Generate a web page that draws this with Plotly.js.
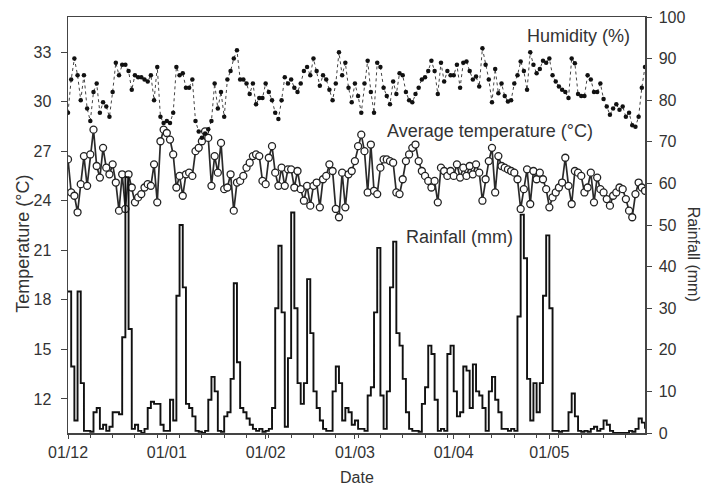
<!DOCTYPE html>
<html>
<head>
<meta charset="utf-8">
<script src="https://cdn.plot.ly/plotly-3.0.1.min.js"></script>
<style>html,body{margin:0;padding:0;background:#fff;}#chart{width:704px;height:488px;}</style>
</head>
<body>
<div id="chart"></div>
<script>
// ---- data (daily, 1 Dec to 31 May) ----
const startDate = '2010-12-01';
const tickDates = ['2010-12-01','2011-01-01','2011-02-01','2011-03-01','2011-04-01','2011-05-01'];
const tickLabels = ['01/12','01/01','01/02','01/03','01/04','01/05'];
const tempTicks = [12, 15, 18, 21, 24, 27, 30, 33];

const humidity = [
 77,85,90,86,80,86,78,75,82,84, 77,79.5,78.5,76,82,89,86,88.5,88.5,87,
 82.5,86,85.5,85.5,85,84.5,86,80,88,76, 74.5,75,74.5,77,88,86,86.5,83,83,85,
 75,72.5,71,72,73,75,84,78,82,76, 85,87,90,92,85,85,84,81.5,84,79,
 80.5,80.5,84,82,80,77,75.5,80,85.5,84, 85,83,82,84,87,88,86,90,87,83.5,
 86,85,82.5,80,84,91.5,86,89,83,79.5, 84,81,77,84,89.5,82,77,89,88,83,
 81,79,84.5,81.5,86.5,86,82,80,79.5,81.5, 83,85,85.5,87,89.5,87,81.5,89,84.5,87,
 86,86,88.5,83,89,89.3,87,85,85.7,83.3, 92.5,88.5,85,79.5,87.5,81.7,84,81,79.7,80,
 84,86,89.3,87,82.5,91.5,88.5,86.5,87.5,89.5, 89,90,86,84.5,83.3,82.5,82,80.5,90,88.9,
 81.5,81,81,86,85,82,82,84,80.3,78.5, 76.5,78,79,77.7,78.5,76,77,74,73.6,76,
 83,88
];

const avgTemp = [
 26.5,24.5,24.3,23.3,25.0,26.7,24.9,26.8,28.3,26.1, 25.4,27.2,26.0,25.6,26.2,25.1,23.4,25.6,23.5,25.6,
 24.8,23.9,24.2,24.4,24.8,25.0,24.9,26.2,23.9,27.6, 28.3,28.1,27.7,26.8,24.8,25.5,24.3,25.6,25.7,25.5,
 27.0,27.2,27.6,28.2,27.8,24.9,26.7,25.7,27.5,24.7, 24.8,25.6,23.4,25.1,25.2,25.5,26.0,26.3,26.7,26.8,
 26.7,25.2,25.0,26.6,27.3,25.7,24.9,26.0,24.9,25.9, 25.9,24.8,25.8,24.7,24.0,24.9,23.7,24.9,25.1,23.6,
 25.3,25.5,26.2,25.8,23.5,23.0,25.7,23.6,25.6,25.8, 26.4,27.3,28.0,27.0,24.5,27.4,24.6,24.4,26.0,26.5,
 26.5,26.4,26.3,24.5,24.4,25.3,26.4,26.8,27.2,27.4, 26.4,25.8,25.5,25.2,24.8,25.2,23.9,26.0,25.8,25.5,
 25.8,25.5,26.2,25.4,26.0,25.5,26.1,25.6,26.2,25.7, 24.0,25.3,26.4,27.2,24.5,26.7,26.1,26.0,25.9,25.8,
 25.7,25.3,23.5,24.7,25.9,23.8,25.8,25.3,25.7,25.3, 24.7,23.6,24.2,24.5,24.8,25.1,26.6,24.9,23.8,25.8,
 25.7,25.5,24.5,24.8,25.7,23.9,25.4,24.7,24.5,24.1, 23.7,24.3,24.5,24.8,24.7,24.1,23.4,23.0,24.4,25.1,
 24.8,24.6
];

const rainfall = [
 34,16,3,34,12,0.5,0.5,0.3,5,6, 1,2,0.5,1.5,5,5,4.5,23,61.5,25,
 1,2,0.5,0,1,6,7.5,7,7,2, 0.5,0.5,8,3,33,50,35,7,6,4,
 0.5,0.3,0,0.5,8,13.5,10,0.5,0.3,4, 5,13,36,17,6,5,3.5,2,1,0.5,
 1,0.3,0.5,1,6,30,45,29,1.5,18, 53,30,12,7,12,37,24,10,6,3,
 1,0.5,0.5,10,16,12,3,6,5,2, 3,1,1,0.5,9,11,29,44.5,9,1,
 10,35,46,24,21,13,5,1,0.5,0.5, 0.3,7,11,21,19,8,0.5,1,0.5,19,
 21,10,4,5,16,15,6,16.5,10,9, 6,0.5,10,13.5,8,5,1,1,0.5,1,
 0.5,28,52.5,42,13,3,12,5,12,33, 47.5,30,0.5,0.5,0.3,0.5,0.5,5,9.5,4,
 0.5,0.3,0.5,0.3,1,1.5,0.5,1,3,2, 0.5,0,0,0,0,0,0.5,0.3,1,3.5,
 2.5,1
];

// daily date labels
const days = [];
{
  const t0 = Date.parse(startDate + 'T00:00:00Z');
  for (let i = 0; i < humidity.length; i++) {
    days.push(new Date(t0 + i * 86400000).toISOString().slice(0, 10));
  }
}

const FONT = 'Liberation Sans, Arial, sans-serif';
const TXT = '#333333';
const AX = '#444444';

const traces = [
  {
    x: days, y: avgTemp, yaxis: 'y', type: 'scatter', mode: 'lines+markers',
    line: {color: '#2a2a2a', width: 1.7},
    marker: {symbol: 'circle', size: 7, color: '#ffffff', line: {color: '#222222', width: 1.3}},
    hoverinfo: 'skip'
  },
  {
    x: days, y: rainfall, yaxis: 'y2', type: 'scatter', mode: 'lines',
    line: {color: '#111111', width: 1.9, shape: 'hv'},
    hoverinfo: 'skip'
  },
  {
    x: days, y: humidity, yaxis: 'y2', type: 'scatter', mode: 'lines+markers',
    line: {color: '#444444', width: 1, dash: 'dot'},
    marker: {symbol: 'circle', size: 4.5, color: '#111111'},
    hoverinfo: 'skip'
  }
];

const layout = {
  width: 704, height: 488,
  margin: {l: 68, r: 59, t: 17, b: 55, pad: 0},
  paper_bgcolor: '#ffffff', plot_bgcolor: '#ffffff',
  showlegend: false,
  font: {family: FONT, size: 16, color: TXT},
  xaxis: {
    type: 'date',
    range: ['2010-12-01', '2011-05-31'],
    tickmode: 'array', tickvals: tickDates, ticktext: tickLabels,
    ticks: 'outside', ticklen: 4, tickwidth: 1, tickcolor: AX,
    ticklabelstandoff: 0,
    minor: {tickmode: 'linear', tick0: '2010-12-01', dtick: 7 * 86400000, ticks: 'outside', ticklen: 3, tickcolor: AX, showgrid: false},
    showline: true, linecolor: AX, linewidth: 1.5, mirror: true,
    showgrid: false, zeroline: false,
    tickfont: {size: 16, color: TXT}
  },
  yaxis: {
    range: [9.94, 35.12],
    tickmode: 'array', tickvals: tempTicks,
    ticks: 'outside', ticklen: 6, tickcolor: AX,
    ticklabelstandoff: 6,
    showline: true, linecolor: AX, linewidth: 1.5,
    showgrid: false, zeroline: false,
    tickfont: {size: 16, color: TXT}
  },
  yaxis2: {
    overlaying: 'y', side: 'right',
    range: [0, 100], dtick: 10, tick0: 0,
    ticks: 'outside', ticklen: 5, tickcolor: AX,
    ticklabelstandoff: 4,
    showline: true, linecolor: AX, linewidth: 1.5,
    showgrid: false, zeroline: false,
    tickfont: {size: 16, color: TXT}
  },
  annotations: [
    {text: 'Humidity (%)', xref: 'paper', yref: 'paper', x: 0.884, y: 0.954, xanchor: 'center', yanchor: 'middle', showarrow: false, font: {size: 18, color: TXT}},
    {text: 'Average temperature (°C)', xref: 'paper', yref: 'paper', x: 0.731, y: 0.726, xanchor: 'center', yanchor: 'middle', showarrow: false, font: {size: 18, color: TXT}},
    {text: 'Rainfall (mm)', xref: 'paper', yref: 'paper', x: 0.679, y: 0.471, xanchor: 'center', yanchor: 'middle', showarrow: false, font: {size: 18, color: TXT}},
    {text: 'Temperature (°C)', xref: 'paper', yref: 'paper', x: -0.078, y: 0.455, xanchor: 'center', yanchor: 'middle', textangle: -90, showarrow: false, font: {size: 18, color: TXT}},
    {text: 'Rainfall (mm)', xref: 'paper', yref: 'paper', x: 1.084, y: 0.43, xanchor: 'center', yanchor: 'middle', textangle: 90, showarrow: false, font: {size: 16, color: TXT}},
    {text: 'Date', xref: 'paper', yref: 'paper', x: 0.501, y: -0.108, xanchor: 'center', yanchor: 'middle', showarrow: false, font: {size: 16, color: TXT}}
  ]
};

Plotly.newPlot('chart', traces, layout, {staticPlot: true, displayModeBar: false});
</script>
</body>
</html>
